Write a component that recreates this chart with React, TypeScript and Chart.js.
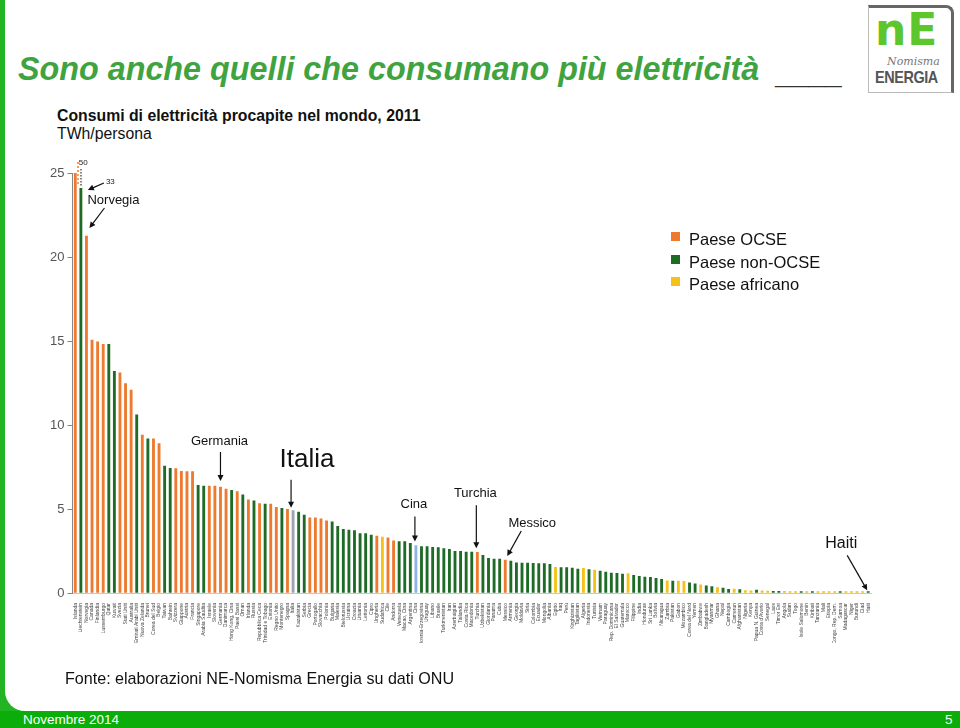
import React, { useEffect, useRef } from "react";
import { Chart, registerables } from "chart.js";
Chart.register(...registerables);

// ---------------- DATA ----------------
const countries: string[] = [
  "Islanda", "Liechtenstein", "Norvegia", "Canada", "Finlandia", "Lussemburgo", "Qatar", "Kuwait",
  "Svezia", "Stati Uniti", "Australia", "Emirati Arabi Uniti", "Nuova Zelanda", "Brunei", "Corea del Sud", "Belgio",
  "Taiwan", "Bahrein", "Svizzera", "Giappone", "Austria", "Francia", "Singapore", "Arabia Saudita",
  "Israele", "Slovenia", "Germania", "Danimarca", "Hong Kong, Cina", "Paesi Bassi", "Oman", "Irlanda",
  "Russia", "Repubblica Ceca", "Trinidad e Tobago", "Estonia", "Regno Unito", "Montenegro", "Spagna", "Italia",
  "Kazakistan", "Serbia", "Grecia", "Portogallo", "Slovacchia", "Polonia", "Bulgaria", "Malesia",
  "Bielorussia", "Ucraina", "Croazia", "Lituania", "Lettonia", "Cipro", "Ungheria", "Sudafrica",
  "Cile", "Andorra", "Venezuela", "Macao, Cina", "Argentina", "Cina", "Bosnia-Erzegovina", "Uruguay",
  "Libano", "Brasile", "Turkmenistan", "Iran", "Azerbaigian", "Tailandia", "Costa Rica", "Macedonia",
  "Turchia", "Uzbekistan", "Giordania", "Panama", "Cuba", "Messico", "Armenia", "Georgia",
  "Moldavia", "Siria", "Colombia", "Ecuador", "Mongolia", "Albania", "Egitto", "Iraq",
  "Perù", "Kirghizistan", "Tagikistan", "Algeria", "Indonesia", "Tunisia", "Vietnam", "Paraguay",
  "Rep. Dominicana", "El Salvador", "Guatemala", "Marocco", "Filippine", "India", "Honduras", "Sri Lanka",
  "Bolivia", "Nicaragua", "Zambia", "Pakistan", "Gabon", "Mozambico", "Corea del Nord", "Yemen",
  "Zimbabwe", "Bangladesh", "Myanmar", "Ghana", "Nepal", "Cambogia", "Camerun", "Afghanistan",
  "Nigeria", "Kenya", "Papua N. Guinea", "Costa d'Avorio", "Senegal", "Laos", "Timor Est", "Angola",
  "Sudan", "Togo", "Isole Salomone", "Benin", "Kiribati", "Tanzania", "Mali", "Etiopia",
  "Congo, Rep. Dem.", "Samoa", "Madagascar", "Niger", "Burundi", "Ciad", "Haiti",
];

const values: number[] = [
  50, 33, 21.25, 15.05, 14.95, 14.8, 14.8, 13.2,
  13.1, 12.46, 12.08, 10.6, 9.4, 9.18, 9.18, 8.9,
  7.56, 7.42, 7.4, 7.24, 7.22, 7.22, 6.41, 6.37,
  6.37, 6.37, 6.31, 6.19, 6.11, 6.03, 5.85, 5.55,
  5.48, 5.32, 5.3, 5.3, 5.1, 5.04, 4.98, 4.9,
  4.82, 4.64, 4.48, 4.48, 4.42, 4.29, 4.23, 3.97,
  3.79, 3.75, 3.71, 3.53, 3.53, 3.45, 3.39, 3.33,
  3.29, 3.1, 3.06, 3.06, 2.96, 2.82, 2.76, 2.76,
  2.72, 2.7, 2.64, 2.6, 2.48, 2.48, 2.44, 2.44,
  2.42, 2.24, 2.06, 2.02, 2.02, 1.96, 1.9, 1.8,
  1.78, 1.78, 1.77, 1.75, 1.75, 1.71, 1.53, 1.51,
  1.51, 1.49, 1.43, 1.47, 1.39, 1.37, 1.3, 1.24,
  1.19, 1.17, 1.13, 1.15, 1.05, 0.99, 0.95, 0.93,
  0.87, 0.81, 0.73, 0.71, 0.71, 0.69, 0.6, 0.54,
  0.48, 0.42, 0.38, 0.33, 0.3, 0.22, 0.23, 0.2,
  0.14, 0.13, 0.18, 0.13, 0.11, 0.1, 0.1, 0.1,
  0.08, 0.07, 0.07, 0.06, 0.07, 0.06, 0.06, 0.05,
  0.05, 0.04, 0.04, 0.03, 0.03, 0.03, 0.04,
];

// O = Paese OCSE, G = Paese non-OCSE, Y = Paese africano, I = Italia, C = Cina
const groups: string[] = [
  "O", "G", "O", "O", "O", "O", "G", "G",
  "O", "O", "O", "G", "O", "G", "O", "O",
  "G", "G", "O", "O", "O", "O", "G", "G",
  "O", "O", "O", "O", "G", "O", "G", "O",
  "G", "O", "G", "O", "O", "G", "O", "I",
  "G", "G", "O", "O", "O", "O", "G", "G",
  "G", "G", "G", "G", "G", "G", "O", "Y",
  "O", "O", "G", "G", "G", "C", "G", "G",
  "G", "G", "G", "G", "G", "G", "G", "G",
  "O", "G", "G", "G", "G", "O", "G", "G",
  "G", "G", "G", "G", "G", "G", "Y", "G",
  "G", "G", "G", "Y", "G", "Y", "G", "G",
  "G", "G", "G", "Y", "G", "G", "G", "G",
  "G", "G", "Y", "G", "Y", "Y", "G", "G",
  "Y", "G", "G", "Y", "G", "G", "Y", "G",
  "Y", "Y", "G", "Y", "Y", "G", "G", "Y",
  "Y", "Y", "G", "Y", "G", "Y", "Y", "Y",
  "Y", "G", "Y", "Y", "Y", "Y", "G",
];

const yTicks: number[] = [0, 5, 10, 15, 20, 25];
const legendLabels: string[] = ["Paese OCSE", "Paese non-OCSE", "Paese africano"];
const legendGroups: string[] = ["O", "G", "Y"];
const Y_MAX = 25;

// ---------------- STYLE ----------------
const groupColors: Record<string, string> = {
  O: "#EE7A30",
  G: "#1E6B26",
  Y: "#F6C21A",
  I: "#9EA3B0",
  C: "#8DB4E2",
};
const FONT = "'Liberation Sans', Arial, Helvetica, sans-serif";

type Note = { idx: number; text: string; size: number; tx: number; ty: number; ax: number; ay: number; bx: number; by: number };
// text centre and arrow tail/tip given relative to the bar's top-centre
const notes: Note[] = [
  { idx: 2, text: "Norvegia", size: 13, tx: 27, ty: -36, ax: 18, ay: -28, bx: 3, by: -8 },
  { idx: 26, text: "Germania", size: 13, tx: -1, ty: -46, ax: 0, ay: -35, bx: 0, by: -6 },
  { idx: 39, text: "Italia", size: 26, tx: 14, ty: -51, ax: -2, ay: -31, bx: -2, by: -3 },
  { idx: 61, text: "Cina", size: 13, tx: -2, ty: -41, ax: -1, ay: -29, bx: -1, by: -4 },
  { idx: 72, text: "Turchia", size: 13, tx: -2, ty: -59, ax: -1, ay: -47, bx: -1, by: -4 },
  { idx: 77, text: "Messico", size: 13, tx: 27, ty: -37, ax: 16, ay: -29, bx: 2, by: -4 },
  { idx: 142, text: "Haiti", size: 16, tx: -27, ty: -49, ax: -21, ay: -37, bx: -1, by: -2 },
];

function arrow(ctx: CanvasRenderingContext2D, x1: number, y1: number, x2: number, y2: number) {
  const ang = Math.atan2(y2 - y1, x2 - x1);
  const hl = 6, hw = 3;
  ctx.save();
  ctx.strokeStyle = "#111";
  ctx.fillStyle = "#111";
  ctx.lineWidth = 1.2;
  ctx.beginPath();
  ctx.moveTo(x1, y1);
  ctx.lineTo(x2 - Math.cos(ang) * hl * 0.8, y2 - Math.sin(ang) * hl * 0.8);
  ctx.stroke();
  ctx.beginPath();
  ctx.moveTo(x2, y2);
  ctx.lineTo(x2 - hl * Math.cos(ang) + hw * Math.sin(ang), y2 - hl * Math.sin(ang) - hw * Math.cos(ang));
  ctx.lineTo(x2 - hl * Math.cos(ang) - hw * Math.sin(ang), y2 - hl * Math.sin(ang) + hw * Math.cos(ang));
  ctx.closePath();
  ctx.fill();
  ctx.restore();
}

const annotPlugin = {
  id: "annot",
  afterDatasetsDraw(chart: any) {
    const ctx: CanvasRenderingContext2D = chart.ctx;
    const xs = chart.scales.x;
    const ys = chart.scales.y;
    const top = chart.chartArea.top;
    ctx.save();
    // broken (off-scale) bars
    values.forEach((v, i) => {
      if (v <= Y_MAX) return;
      const x = xs.getPixelForValue(i);
      if (i === 0) {
        ctx.fillStyle = groupColors[groups[i]];
        for (let y = top - 11; y < top + 10; y += 4) ctx.fillRect(x + 2, y, 1.5, 2);
      } else {
        ctx.fillStyle = "#fff";
        ctx.fillRect(x - 2, top - 1, 4, 16);
        ctx.fillStyle = "#333";
        for (let y = top - 4; y < top + 14; y += 3) ctx.fillRect(x - 0.5, y, 1.2, 1.5);
      }
    });
    // value labels for off-scale bars
    ctx.font = `8px ${FONT}`;
    ctx.fillStyle = "#222";
    ctx.textAlign = "center";
    ctx.textBaseline = "middle";
    const x0 = xs.getPixelForValue(0);
    ctx.fillText(String(values[0]), x0 + 8, top - 10);
    const x1 = xs.getPixelForValue(1);
    const y1 = top + 16;
    ctx.textAlign = "left";
    ctx.fillText(String(values[1]), x1 + 25, top + 9);
    arrow(ctx, x1 + 23, y1 - 6, x1 + 7, y1 + 1);

    notes.forEach((n) => {
      const x = xs.getPixelForValue(n.idx);
      const y = ys.getPixelForValue(Math.min(values[n.idx], Y_MAX));
      ctx.font = `${n.size}px ${FONT}`;
      ctx.fillStyle = "#111";
      ctx.textAlign = "center";
      ctx.textBaseline = "middle";
      ctx.fillText(n.text, x + n.tx, y + n.ty);
      arrow(ctx, x + n.ax, y + n.ay, x + n.bx, y + n.by);
    });
    ctx.restore();
  },
};

export default function App() {
  const ref = useRef<HTMLCanvasElement | null>(null);
  useEffect(() => {
    if (!ref.current) return;
    const chart = new Chart(ref.current, {
      type: "bar",
      data: {
        labels: countries,
        datasets: [
          {
            data: values,
            backgroundColor: groups.map((g) => groupColors[g]),
            barThickness: 2.2,
            minBarLength: 1.5,
            borderWidth: 0,
          },
        ],
      },
      options: {
        animation: false,
        responsive: false,
        maintainAspectRatio: false,
        layout: { padding: { left: 39.5, right: 89, top: 173, bottom: 85 } },
        plugins: { legend: { display: false }, tooltip: { enabled: false }, title: { display: false } },
        scales: {
          x: {
            type: "category",
            offset: true,
            grid: { display: false },
            border: { display: true, color: "#c8c8c8" },
            ticks: {
              autoSkip: false,
              maxRotation: 90,
              minRotation: 90,
              padding: 2,
              color: "#444",
              font: { size: 5, family: FONT },
            },
            afterFit: (s: any) => { s.height = 50; },
          },
          y: {
            min: 0,
            max: Y_MAX,
            afterBuildTicks: (s: any) => { s.ticks = yTicks.map((v) => ({ value: v })); },
            grid: { display: true, drawOnChartArea: false, tickLength: 5, color: "#888" },
            border: { display: true, color: "#888" },
            ticks: { color: "#555", padding: 3, font: { size: 13, family: FONT } },
            afterFit: (s: any) => { s.width = 33; },
          },
        },
      },
      plugins: [annotPlugin],
    } as any);
    return () => chart.destroy();
  }, []);

  const abs = (o: React.CSSProperties): React.CSSProperties => ({ position: "absolute", ...o });

  return (
    <div style={{ position: "fixed", left: 0, top: 0, width: 960, height: 728, background: "#fff", overflow: "hidden", fontFamily: FONT }}>
      {/* left green strip and footer */}
      <div style={abs({ left: 0, top: 0, width: 5, height: 728, background: "#22B422" })} />
      <div style={abs({ left: 0, top: 680, width: 40, height: 48, background: "#22B422" })} />
      <div style={abs({ left: 5, top: 660, width: 40, height: 51, background: "#fff", borderBottomLeftRadius: 20 })} />
      <div style={abs({ left: 0, top: 711, width: 960, height: 17, background: "#0AAD0A" })} />
      <div style={abs({ left: 23, top: 711, height: 17, lineHeight: "17px", fontSize: 13.5, color: "#fff" })}>Novembre 2014</div>
      <div style={abs({ left: 945, top: 711, height: 17, lineHeight: "17px", fontSize: 13.5, color: "#fff" })}>5</div>

      {/* slide title */}
      <div style={abs({ left: 18, top: 50, fontSize: 32.3, fontWeight: "bold", fontStyle: "italic", color: "#3FA33F", whiteSpace: "nowrap", lineHeight: "38px" })}>
        Sono anche quelli che consumano più elettricità
      </div>
      <div style={abs({ left: 775, top: 56, fontSize: 30, fontWeight: "bold", color: "#333", lineHeight: "36px" })}>____</div>

      {/* logo */}
      <div style={abs({ left: 868, top: 5, width: 82, height: 84, border: "1px solid #bbb", borderRight: "3px solid #666", borderTop: "3px solid #666", borderTopRightRadius: 8, background: "#fff" })}>
        <div style={abs({ left: 6, top: -4, fontSize: 44, fontWeight: "bold", color: "#5CC62C", letterSpacing: 1, lineHeight: "52px", fontFamily: "'DejaVu Sans', sans-serif" })}>nE</div>
        <div style={abs({ left: 18, top: 47, fontSize: 11, fontStyle: "italic", color: "#777", fontFamily: "'DejaVu Serif', serif" })}>Nomisma</div>
        <div style={abs({ left: 6, top: 60, fontSize: 17, fontWeight: "bold", color: "#555", letterSpacing: -0.5, transform: "scaleX(0.85)", transformOrigin: "left" })}>ENERGIA</div>
      </div>

      {/* chart title */}
      <div style={abs({ left: 57, top: 106, fontSize: 15.8, fontWeight: "bold", color: "#111", whiteSpace: "nowrap", lineHeight: "19px" })}>
        Consumi di elettricità procapite nel mondo, 2011
      </div>
      <div style={abs({ left: 57, top: 124, fontSize: 15.8, color: "#111", lineHeight: "19px" })}>TWh/persona</div>

      <canvas ref={ref} width={960} height={728} style={abs({ left: 0, top: 0, width: 960, height: 728 })} />

      {/* legend */}
      {legendLabels.map((l, i) => (
        <div key={l} style={abs({ left: 671, top: 231 + i * 22.5, height: 20, whiteSpace: "nowrap" })}>
          <div style={abs({ left: 0, top: 1, width: 9, height: 9, background: groupColors[legendGroups[i]] })} />
          <div style={abs({ left: 18, top: -2, fontSize: 16.5, color: "#111", lineHeight: "20px" })}>{l}</div>
        </div>
      ))}

      {/* source */}
      <div style={abs({ left: 65, top: 668, fontSize: 16.1, color: "#111", whiteSpace: "nowrap", lineHeight: "20px" })}>
        Fonte: elaborazioni NE-Nomisma Energia su dati ONU
      </div>
    </div>
  );
}
